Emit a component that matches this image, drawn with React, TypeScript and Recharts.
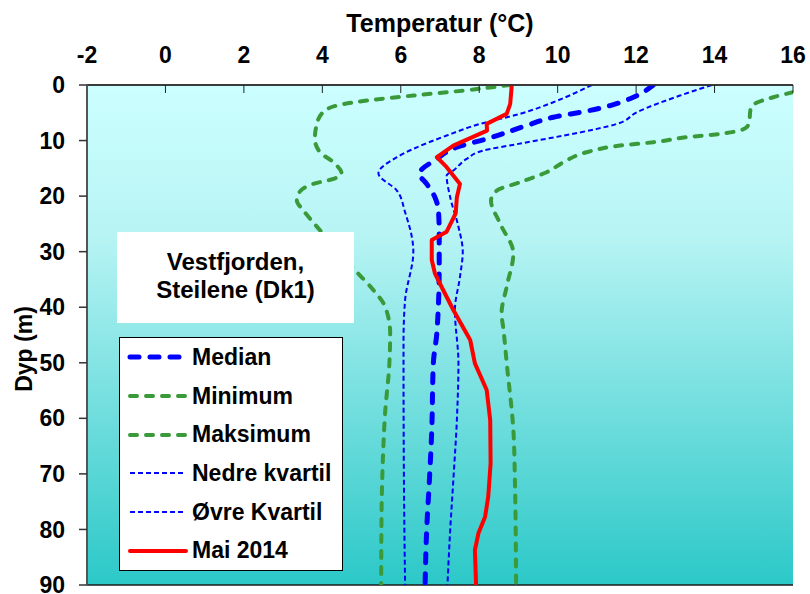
import React from 'react';
import { LineChart, Line, XAxis, YAxis, CartesianGrid, Legend, Label } from 'recharts';

// ---- axis ticks ----
const tempTicks = [-2, 0, 2, 4, 6, 8, 10, 12, 14, 16];
const tempMinorTicks = [-2, -1.5, -1, -0.5, 0, 0.5, 1, 1.5, 2, 2.5, 3, 3.5, 4, 4.5, 5, 5.5, 6, 6.5, 7, 7.5, 8, 8.5, 9, 9.5, 10, 10.5, 11, 11.5, 12, 12.5, 13, 13.5, 14, 14.5, 15, 15.5, 16];
const depthTicks = [0, 10, 20, 30, 40, 50, 60, 70, 80, 90];

// ---- series (depth in m, temperature in °C) ----
const medianDepth = [0, 2.2, 3.7, 4.7, 5.8, 7.3, 9.7, 11.2, 13.3, 16.0, 17.8, 20.2, 22.6, 26.7, 32.7, 44.6, 50.1, 62.1, 71.1, 80.1, 90];
const medianTemp = [12.44, 11.93, 11.34, 10.74, 9.89, 9.21, 8.19, 7.43, 6.92, 6.47, 6.66, 6.87, 6.96, 6.98, 6.98, 6.92, 6.83, 6.79, 6.73, 6.66, 6.62];

const minDepth = [0, 1.0, 1.9, 2.8, 3.7, 4.9, 7.0, 9.7, 12.1, 13.9, 15.9, 16.9, 17.8, 19.6, 20.8, 22.6, 25.5, 29.0, 33.3, 36.9, 39.9, 44.7, 50.0, 59.1, 68.1, 77.1, 90];
const minTemp = [8.79, 7.6, 6.32, 5.13, 4.37, 4.02, 3.86, 3.81, 3.94, 4.28, 4.49, 4.28, 3.77, 3.39, 3.35, 3.52, 3.86, 4.3, 4.83, 5.3, 5.6, 5.73, 5.71, 5.6, 5.54, 5.51, 5.5];

const maxDepth = [1.3, 2.2, 3.4, 4.3, 6.7, 7.6, 8.8, 9.4, 10.3, 10.9, 12.1, 13.9, 15.7, 17.5, 19.0, 20.8, 24.9, 30.3, 36.3, 41.1, 44.1, 50.0, 62.1, 71.1, 90];
const maxTemp = [16.0, 15.5, 15.02, 14.92, 14.88, 14.82, 14.14, 13.29, 12.44, 11.59, 10.74, 10.15, 9.72, 9.04, 8.45, 8.3, 8.53, 8.87, 8.7, 8.57, 8.62, 8.7, 8.87, 8.91, 8.94];

const lowerQDepth = [0, 3.1, 5.2, 7.0, 9.1, 11.5, 13.0, 15.9, 19.0, 22.9, 30.0, 38.7, 45.9, 50.0, 71.0, 90];
const lowerQTemp = [10.87, 9.89, 9.04, 8.02, 7.17, 6.32, 5.9, 5.43, 5.9, 6.11, 6.32, 6.11, 6.07, 6.07, 6.08, 6.11];

const upperQDepth = [0, 1.9, 4.9, 7.0, 7.9, 9.1, 10.6, 11.8, 13.3, 15.4, 16.3, 20.2, 25.5, 30.0, 34.5, 40.5, 50.1, 60.3, 71.1, 80.1, 90];
const upperQTemp = [13.93, 13.12, 12.02, 11.51, 11.0, 10.15, 9.0, 8.1, 7.68, 7.34, 7.17, 7.26, 7.47, 7.58, 7.51, 7.38, 7.47, 7.43, 7.34, 7.26, 7.19];

const may2014Depth = [0, 3.4, 5.2, 7.0, 8.2, 10.9, 13.0, 14.8, 17.8, 20.2, 23.1, 26.4, 27.9, 31.5, 33.9, 36.9, 40.5, 45.9, 50.1, 54.9, 60.3, 68.1, 74.1, 77.7, 80.7, 83.7, 90];
const may2014Temp = [8.83, 8.79, 8.7, 8.19, 8.2, 7.34, 6.92, 7.17, 7.51, 7.43, 7.4, 7.17, 6.79, 6.79, 6.87, 7.08, 7.34, 7.77, 7.89, 8.19, 8.28, 8.29, 8.23, 8.15, 7.98, 7.89, 7.92];

const toPoints = (depth: number[], temp: number[]) => depth.map((d, i) => ({ d, t: temp[i] }));

type Series = {
  name: string;
  data: { d: number; t: number }[];
  stroke: string;
  width: number;
  dash?: string;
  cap: 'round' | 'butt';
  curve: 'monotone' | 'linear';
};

const BLUE = '#0000ff';
const GREEN = '#3a9a3a';
const RED = '#ff0000';

const series: Series[] = [
  { name: 'Median', data: toPoints(medianDepth, medianTemp), stroke: BLUE, width: 5, dash: '9 11', cap: 'round', curve: 'monotone' },
  { name: 'Minimum', data: toPoints(minDepth, minTemp), stroke: GREEN, width: 4, dash: '7 9', cap: 'round', curve: 'monotone' },
  { name: 'Maksimum', data: toPoints(maxDepth, maxTemp), stroke: GREEN, width: 4, dash: '7 9', cap: 'round', curve: 'monotone' },
  { name: 'Nedre kvartil', data: toPoints(lowerQDepth, lowerQTemp), stroke: BLUE, width: 2, dash: '5 3', cap: 'butt', curve: 'monotone' },
  { name: 'Øvre Kvartil', data: toPoints(upperQDepth, upperQTemp), stroke: BLUE, width: 2, dash: '5 3', cap: 'butt', curve: 'monotone' },
  { name: 'Mai 2014', data: toPoints(may2014Depth, may2014Temp), stroke: RED, width: 4, cap: 'round', curve: 'linear' },
];

const FONT = '"Liberation Sans", Arial, sans-serif';

const renderLegend = (props: any) => {
  const payload = [...(props.payload || [])].sort(
    (a: any, b: any) =>
      series.findIndex((s) => s.name === a.value) - series.findIndex((s) => s.name === b.value)
  );
  return (
    <div
      style={{
        width: 224,
        height: 234,
        boxSizing: 'border-box',
        border: '1px solid #000',
        background: '#fff',
        fontFamily: FONT,
        fontWeight: 'bold',
        fontSize: 23,
        color: '#000',
      }}
    >
      {payload.map((entry: any) => {
        const s = series.find((x) => x.name === entry.value);
        if (!s) return null;
        return (
          <div key={s.name} style={{ height: 38.7, display: 'flex', alignItems: 'center' }}>
            <svg width={72} height={12} style={{ display: 'block' }}>
              <line
                x1={10}
                x2={66}
                y1={6}
                y2={6}
                stroke={entry.color || s.stroke}
                strokeWidth={s.width}
                strokeDasharray={s.dash}
                strokeLinecap={s.cap}
              />
            </svg>
            <span style={{ whiteSpace: 'nowrap' }}>{entry.value}</span>
          </div>
        );
      })}
    </div>
  );
};

export default function App() {
  return (
    <div style={{ position: 'absolute', left: 0, top: 0, width: 810, height: 594, background: '#fff' }}>
      <LineChart
        width={810}
        height={594}
        layout="vertical"
        margin={{ top: 0, right: 17, bottom: 9, left: 0 }}
      >
        <defs>
          <linearGradient id="bgGrad" x1="0" y1="0" x2="0" y2="1">
            <stop offset="0%" stopColor="#ccffff" />
            <stop offset="30%" stopColor="#b8f4f4" />
            <stop offset="100%" stopColor="#2cc8c8" />
          </linearGradient>
        </defs>
        <CartesianGrid
          vertical={false}
          stroke="#1a1a1a"
          strokeWidth={1.5}
          fill="url(#bgGrad)"
          fillOpacity={1}
        />
        <XAxis
          xAxisId="main"
          type="number"
          orientation="top"
          dataKey="t"
          domain={[-2, 16]}
          ticks={tempTicks}
          allowDataOverflow
          height={85}
          tickSize={-8}
          tickMargin={30}
          interval={0}
          axisLine={{ stroke: '#333', strokeWidth: 1.5 }}
          tickLine={{ stroke: '#222', strokeWidth: 1 }}
          tick={{ fontFamily: FONT, fontWeight: 'bold', fontSize: 23, fill: '#000' }}
        >
          <Label
            content={(p: any) => {
              const vb = p.viewBox || {};
              const cx = vb.x + vb.width / 2;
              return (
                <text
                  x={cx}
                  y={32}
                  textAnchor="middle"
                  fontFamily={FONT}
                  fontWeight="bold"
                  fontSize={25}
                  fill="#000"
                >
                  Temperatur (°C)
                </text>
              );
            }}
          />
        </XAxis>
        <XAxis
          xAxisId="minor"
          type="number"
          orientation="top"
          domain={[-2, 16]}
          ticks={tempMinorTicks}
          interval={0}
          height={0}
          tickSize={-4}
          tick={false}
          axisLine={false}
          tickLine={{ stroke: '#222', strokeWidth: 1 }}
        />
        <XAxis
          xAxisId="bottom"
          type="number"
          orientation="bottom"
          domain={[-2, 16]}
          height={0}
          tick={false}
          tickLine={false}
          axisLine={{ stroke: '#9a9a9a', strokeWidth: 2 }}
        />
        <YAxis
          yAxisId="main"
          type="number"
          dataKey="d"
          domain={[0, 90]}
          ticks={depthTicks}
          interval={0}
          allowDataOverflow
          width={87}
          tickSize={8}
          tickMargin={14}
          axisLine={{ stroke: '#555', strokeWidth: 2 }}
          tickLine={{ stroke: '#333', strokeWidth: 1.5 }}
          tick={{ fontFamily: FONT, fontWeight: 'bold', fontSize: 23, fill: '#000' }}
        >
          <Label
            content={(p: any) => {
              const vb = p.viewBox || {};
              const cx = vb.x + 24;
              const cy = vb.y + vb.height / 2 + 14;
              return (
                <text
                  x={cx}
                  y={cy}
                  transform={`rotate(-90 ${cx} ${cy})`}
                  textAnchor="middle"
                  dominantBaseline="central"
                  fontFamily={FONT}
                  fontWeight="bold"
                  fontSize={23}
                  fill="#000"
                >
                  Dyp (m)
                </text>
              );
            }}
          />
        </YAxis>
        <YAxis
          yAxisId="right"
          type="number"
          orientation="right"
          domain={[0, 90]}
          width={0}
          tick={false}
          tickLine={false}
          axisLine={{ stroke: '#9a9a9a', strokeWidth: 2 }}
        />
        {series.map((s) => (
          <Line
            key={s.name}
            xAxisId="main"
            yAxisId="main"
            data={s.data}
            dataKey="t"
            name={s.name}
            type={s.curve}
            stroke={s.stroke}
            strokeWidth={s.width}
            strokeDasharray={s.dash}
            strokeLinecap={s.cap}
            strokeLinejoin="round"
            dot={false}
            activeDot={false}
            isAnimationActive={false}
          />
        ))}
        <Legend
          layout="vertical"
          align="center"
          verticalAlign="middle"
          content={renderLegend}
          wrapperStyle={{ left: 119, top: 337, width: 224, height: 234 }}
        />
      </LineChart>
      <div
        style={{
          position: 'absolute',
          left: 117,
          top: 232,
          width: 237,
          height: 91,
          background: '#fff',
          display: 'flex',
          flexDirection: 'column',
          alignItems: 'center',
          justifyContent: 'center',
          fontFamily: FONT,
          fontWeight: 'bold',
          fontSize: 24,
          lineHeight: '28px',
          color: '#000',
          paddingBottom: 4,
          boxSizing: 'border-box',
          textAlign: 'center',
        }}
      >
        <div>Vestfjorden,</div>
        <div>Steilene (Dk1)</div>
      </div>
    </div>
  );
}
